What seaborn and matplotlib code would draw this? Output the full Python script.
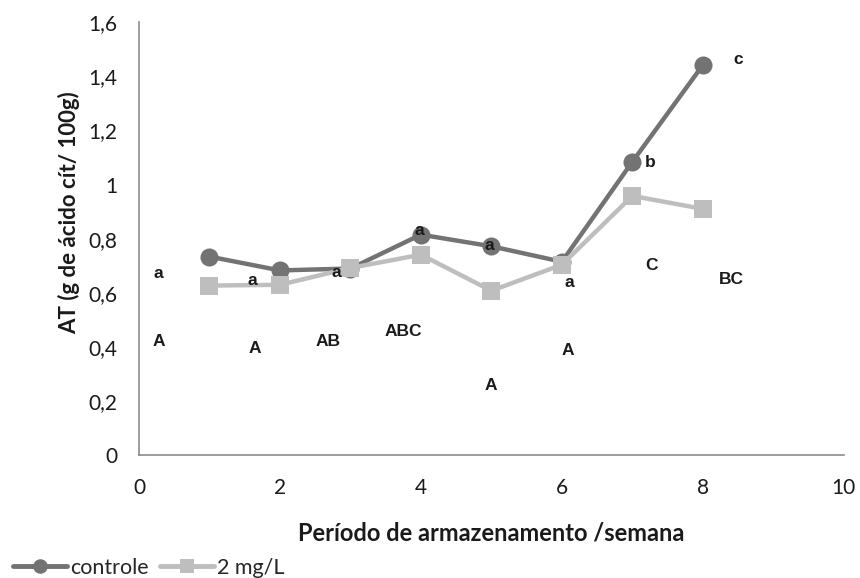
import matplotlib
matplotlib.use("Agg")
import matplotlib.pyplot as plt
from matplotlib.lines import Line2D
import seaborn as sns
import pandas as pd

# Storage period (weeks) and titratable acidity values
semanas = [1, 2, 3, 4, 5, 6, 7, 8]
controle = [0.734, 0.683, 0.690, 0.815, 0.772, 0.715, 1.084, 1.441]
dose_2mg = [0.627, 0.630, 0.692, 0.741, 0.608, 0.704, 0.958, 0.910]
series_names = ["controle", "2 mg/L"]

# Significance letters: (x, y, text)
letras_x = [0.27, 1.61, 2.80, 3.98, 4.97, 6.10, 7.25, 8.50,
            0.28, 1.64, 2.68, 3.75, 4.99, 6.09, 7.27, 8.40]
letras_y = [0.67, 0.645, 0.675, 0.83, 0.775, 0.64, 1.08, 1.46,
            0.42, 0.395, 0.42, 0.457, 0.258, 0.387, 0.70, 0.65]
letras = ["a", "a", "a", "a", "a", "a", "b", "c",
          "A", "A", "AB", "ABC", "A", "A", "C", "BC"]

y_ticks = [0, 0.2, 0.4, 0.6, 0.8, 1.0, 1.2, 1.4, 1.6]
y_ticklabels = ["0", "0,2", "0,4", "0,6", "0,8", "1", "1,2", "1,4", "1,6"]
x_ticks = [0, 2, 4, 6, 8, 10]

df = pd.DataFrame({
    "semana": semanas * 2,
    "AT": controle + dose_2mg,
    "tratamento": [series_names[0]] * len(semanas) + [series_names[1]] * len(semanas),
})

sns.set_theme(style="white")
plt.rcParams["font.family"] = ["Lato", "DejaVu Sans"]

fig = plt.figure(figsize=(8.6, 5.78), dpi=100)
ax = fig.add_axes([0.1616, 0.212, 0.8196, 0.750])

palette = {"controle": "#737373", "2 mg/L": "#bebebe"}
sns.lineplot(data=df, x="semana", y="AT", hue="tratamento", style="tratamento",
             markers={"controle": "o", "2 mg/L": "s"}, dashes=False,
             palette=palette, linewidth=3.2, markersize=13, markeredgewidth=0,
             ax=ax, legend=False)

for xx, yy, t in zip(letras_x, letras_y, letras):
    ax.text(xx, yy, t, ha="center", va="center", fontsize=12.5, fontweight="bold",
            family=["Liberation Sans", "DejaVu Sans"], color="#1a1a1a")

ax.set_xlim(0, 10)
ax.set_ylim(0, 1.6)
ax.set_xticks(x_ticks)
ax.set_xticklabels([str(v) for v in x_ticks])
ax.set_yticks(y_ticks)
ax.set_yticklabels(y_ticklabels)
ax.tick_params(axis="both", labelsize=15, colors="#8c8c8c", labelcolor="#1a1a1a",
               length=4.5, width=1.2, direction="out")
ax.tick_params(axis="y", pad=11)
ax.tick_params(axis="x", pad=12)

for side in ["top", "right"]:
    ax.spines[side].set_visible(False)
for side in ["left", "bottom"]:
    ax.spines[side].set_color("#8c8c8c")
    ax.spines[side].set_linewidth(1.2)

ax.set_xlabel("Período de armazenamento /semana", fontsize=17, fontweight="bold",
              labelpad=17, color="#1a1a1a")
ax.set_ylabel("AT (g de ácido cít/ 100g)", fontsize=16, fontweight="bold",
              color="#1a1a1a")
ax.yaxis.set_label_coords(-0.084, 0.56)
ax.grid(False)

handles = [
    Line2D([], [], color=palette["controle"], marker="o", linewidth=3.5,
           markersize=10.5, markeredgewidth=0),
    Line2D([], [], color=palette["2 mg/L"], marker="s", linewidth=3.5,
           markersize=10.5, markeredgewidth=0),
]
fig.legend(handles, series_names, loc="lower left", bbox_to_anchor=(-0.002, -0.026),
           ncol=2, frameon=False, fontsize=15.5, handlelength=2.5,
           handletextpad=0.15, columnspacing=0.5, borderaxespad=0.3)

fig.savefig("out.png", dpi=100)
